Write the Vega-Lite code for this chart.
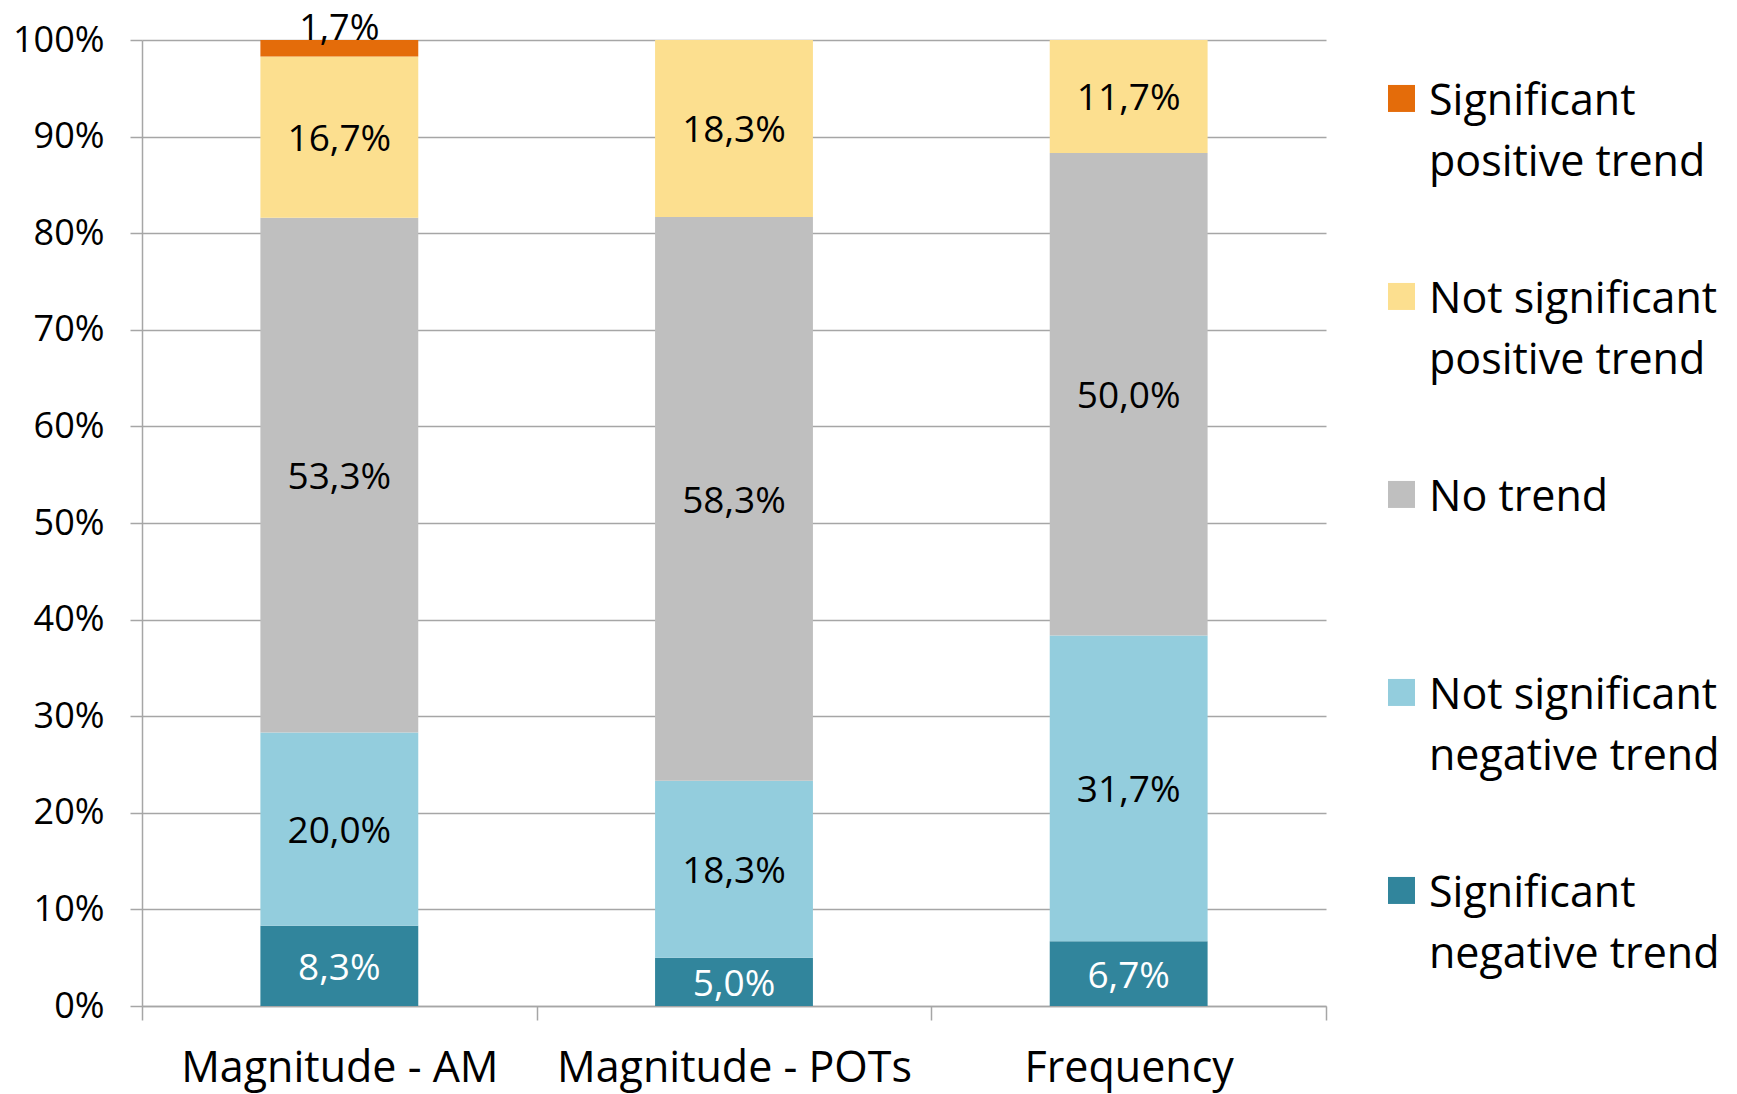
{
  "$schema": "https://vega.github.io/schema/vega-lite/v6.json",
  "width": 1184,
  "height": 966,
  "autosize": "none",
  "padding": {"left": 142, "top": 40, "right": 411, "bottom": 88},
  "config": {
    "locale": {"number": {"decimal": ",", "thousands": ".", "grouping": [3], "currency": ["", " €"]}},
    "view": {"stroke": null},
    "font": "Open Sans",
    "style": {"guide-label": {"lineHeight": 61}}
  },
  "data": {
    "values": [
      {"measure": "Magnitude - AM", "trend": "Significant negative trend", "k": 1, "v": 0.083},
      {"measure": "Magnitude - AM", "trend": "Not significant negative trend", "k": 2, "v": 0.200},
      {"measure": "Magnitude - AM", "trend": "No trend", "k": 3, "v": 0.533},
      {"measure": "Magnitude - AM", "trend": "Not significant positive trend", "k": 4, "v": 0.167},
      {"measure": "Magnitude - AM", "trend": "Significant positive trend", "k": 5, "v": 0.017},
      {"measure": "Magnitude - POTs", "trend": "Significant negative trend", "k": 1, "v": 0.050},
      {"measure": "Magnitude - POTs", "trend": "Not significant negative trend", "k": 2, "v": 0.183},
      {"measure": "Magnitude - POTs", "trend": "No trend", "k": 3, "v": 0.583},
      {"measure": "Magnitude - POTs", "trend": "Not significant positive trend", "k": 4, "v": 0.183},
      {"measure": "Magnitude - POTs", "trend": "Significant positive trend", "k": 5, "v": 0.0},
      {"measure": "Frequency", "trend": "Significant negative trend", "k": 1, "v": 0.067},
      {"measure": "Frequency", "trend": "Not significant negative trend", "k": 2, "v": 0.317},
      {"measure": "Frequency", "trend": "No trend", "k": 3, "v": 0.500},
      {"measure": "Frequency", "trend": "Not significant positive trend", "k": 4, "v": 0.117},
      {"measure": "Frequency", "trend": "Significant positive trend", "k": 5, "v": 0.0}
    ]
  },
  "encoding": {
    "x": {
      "field": "measure",
      "type": "nominal",
      "sort": ["Magnitude - AM", "Magnitude - POTs", "Frequency"],
      "scale": {"paddingInner": 0, "paddingOuter": 0},
      "axis": {
        "title": null,
        "labelAngle": 0,
        "labelFont": "Open Sans",
        "labelFontSize": 43,
        "labelColor": "#000000",
        "labelPadding": 27,
        "labelLimit": 0,
        "tickSize": 14,
        "tickBand": "extent",
        "tickColor": "#A6A6A6",
        "tickWidth": 1.5,
        "domainColor": "#A6A6A6",
        "domainWidth": 1.5,
        "grid": false
      }
    }
  },
  "layer": [
    {
      "mark": {"type": "bar", "width": {"band": 0.4}},
      "encoding": {
        "y": {
          "field": "v",
          "type": "quantitative",
          "stack": "normalize",
          "scale": {"domain": [0, 1]},
          "axis": {
            "title": null,
            "format": ".0%",
            "values": [0, 0.1, 0.2, 0.3, 0.4, 0.5, 0.6, 0.7, 0.8, 0.9, 1],
            "labelFont": "Open Sans",
            "labelFontSize": 36,
            "labelColor": "#000000",
            "labelPadding": 26,
            "tickSize": 12,
            "tickColor": "#A6A6A6",
            "tickWidth": 1.5,
            "domainColor": "#A6A6A6",
            "domainWidth": 1.5,
            "gridColor": "#A6A6A6",
            "gridWidth": 1.5
          }
        },
        "order": {"field": "k", "type": "quantitative"},
        "color": {
          "field": "trend",
          "type": "nominal",
          "scale": {
            "domain": ["Significant positive trend", "Not significant positive trend", "No trend", "Not significant negative trend", "Significant negative trend"],
            "range": ["#E46C0A", "#FCDF8F", "#BFBFBF", "#93CDDD", "#31859C"]
          },
          "legend": {
            "title": null,
            "orient": "none",
            "legendX": 1238,
            "legendY": 19,
            "padding": 0,
            "symbolType": "M-1,0.33H1V2.33H-1Z",
            "symbolSize": 729,
            "symbolStrokeWidth": 0,
            "labelFont": "Open Sans",
            "labelFontSize": 43,
            "labelColor": "#000000",
            "labelBaseline": "top",
            "labelOffset": 6,
            "labelLimit": 0,
            "rowPadding": 72,
            "labelExpr": "datum.label == 'No trend' ? [datum.label, ' '] : [replace(replace(datum.label, ' positive trend', ''), ' negative trend', ''), slice(datum.label, -14)]"
          }
        }
      }
    },
    {
      "mark": {"type": "text", "font": "Open Sans", "fontSize": 37, "baseline": "middle", "align": "center", "dy": 3},
      "encoding": {
        "y": {"field": "v", "type": "quantitative", "stack": "normalize", "bandPosition": 0.5},
        "order": {"field": "k", "type": "quantitative"},
        "text": {
          "condition": {"test": "datum.v > 0 && datum.k < 5", "field": "v", "type": "quantitative", "format": ".1%"},
          "value": ""
        },
        "color": {
          "condition": {"test": "datum.k == 1", "value": "#FFFFFF"},
          "value": "#000000"
        }
      }
    },
    {
      "transform": [
        {"stack": "v", "groupby": ["measure"], "sort": [{"field": "k"}], "as": ["y0", "y1"], "offset": "normalize"},
        {"filter": "datum.v > 0 && datum.k == 5"}
      ],
      "mark": {"type": "text", "font": "Open Sans", "fontSize": 36, "baseline": "middle", "align": "center", "dy": -11, "color": "#000000"},
      "encoding": {
        "y": {"field": "y1", "type": "quantitative"},
        "text": {"field": "v", "type": "quantitative", "format": ".1%"}
      }
    }
  ]
}
